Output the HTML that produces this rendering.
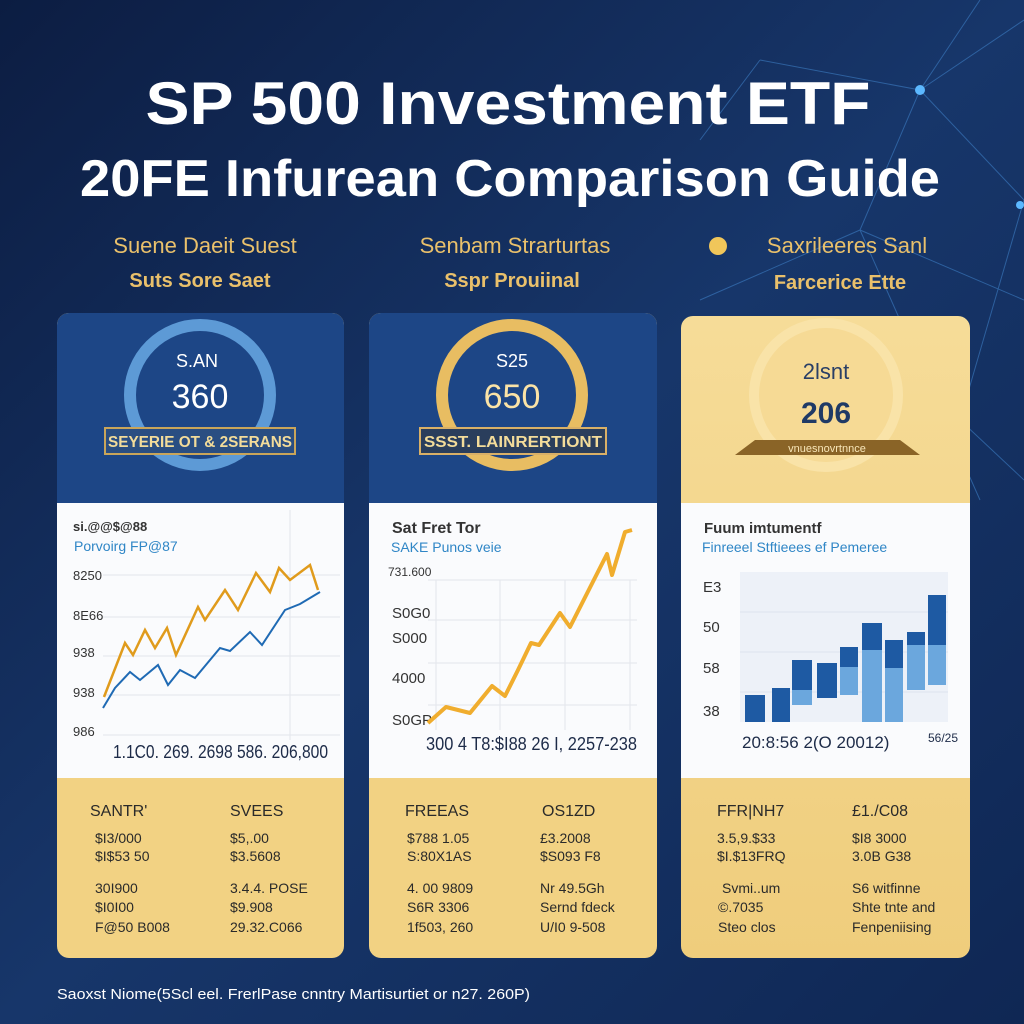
<!DOCTYPE html>
<html><head><meta charset="utf-8"><style>
html,body{margin:0;padding:0;background:#0f2450;}
svg{display:block;font-family:"Liberation Sans",sans-serif;}
</style></head><body>
<svg width="1024" height="1024" viewBox="0 0 1024 1024" xmlns="http://www.w3.org/2000/svg">
<defs>
<linearGradient id="bg" x1="0" y1="0" x2="1" y2="1">
<stop offset="0" stop-color="#0c1d42"/><stop offset="0.5" stop-color="#17366a"/><stop offset="1" stop-color="#0f2754"/>
</linearGradient>
<linearGradient id="gold" x1="0" y1="0" x2="0" y2="1"><stop offset="0" stop-color="#f6dc98"/><stop offset="1" stop-color="#efcd7c"/></linearGradient>
</defs>
<rect width="1024" height="1024" fill="url(#bg)"/>
<g stroke="#3d7fc4" stroke-width="1" opacity="0.6" fill="none">
<path d="M920 90 L1024 20 M920 90 L760 60 M920 90 L1024 200 M920 90 L860 230 M860 230 L1024 300 M860 230 L700 300 M1024 200 L960 420 M960 420 L1024 480 M760 60 L700 140 M920 90 L980 0 M860 230 L980 500"/>
</g>
<circle cx="920" cy="90" r="5" fill="#5cb8ff"/>
<circle cx="1020" cy="205" r="4" fill="#5cb8ff"/>
<text x="508" y="124" text-anchor="middle" fill="#fff" font-size="60" font-weight="bold" textLength="725" lengthAdjust="spacingAndGlyphs">SP 500 Investment ETF</text>
<text x="510" y="196" text-anchor="middle" fill="#fff" font-size="52" font-weight="bold" textLength="860" lengthAdjust="spacingAndGlyphs">20FE Infurean Comparison Guide</text>
<g fill="#e9c06b" text-anchor="middle">
<text x="205" y="253" font-size="22">Suene Daeit Suest</text>
<text x="200" y="287" font-size="20" font-weight="bold">Suts Sore Saet</text>
<text x="515" y="253" font-size="22">Senbam Strarturtas</text>
<text x="512" y="287" font-size="20" font-weight="bold">Sspr Prouiinal</text>
<text x="847" y="253" font-size="22">Saxrileeres Sanl</text>
<text x="840" y="289" font-size="20" font-weight="bold">Farcerice Ette</text>
</g>
<circle cx="718" cy="246" r="9" fill="#f0c65a"/>
<!-- card1 -->
<rect x="57" y="313" width="287" height="645" rx="12" fill="#f2d283"/>
<path d="M69 313 H332 A12 12 0 0 1 344 325 V503 H57 V325 A12 12 0 0 1 69 313Z" fill="#1d4686"/>
<rect x="57" y="503" width="287" height="275" fill="#fafbfd"/>
<circle cx="200" cy="395" r="70" fill="none" stroke="#5d9ad6" stroke-width="12"/>
<text x="197" y="367" fill="#fff" font-size="18" text-anchor="middle">S.AN</text>
<text x="200" y="408" fill="#fff" font-size="34" text-anchor="middle">360</text>
<rect x="105" y="428" width="190" height="26" fill="#2a4e82" stroke="#c9a55a" stroke-width="2"/>
<text x="200" y="447" fill="#f3dc9a" font-size="16" font-weight="bold" text-anchor="middle" textLength="184" lengthAdjust="spacingAndGlyphs">SEYERIE OT &amp; 2SERANS</text>
<!-- card2 -->
<rect x="369" y="313" width="288" height="645" rx="12" fill="#f2d283"/>
<path d="M381 313 H645 A12 12 0 0 1 657 325 V503 H369 V325 A12 12 0 0 1 381 313Z" fill="#1d4686"/>
<rect x="369" y="503" width="288" height="275" fill="#fafbfd"/>
<circle cx="512" cy="395" r="70" fill="none" stroke="#e8bd62" stroke-width="12"/>
<text x="512" y="367" fill="#fff" font-size="18" text-anchor="middle">S25</text>
<text x="512" y="408" fill="#fbe3a6" font-size="34" text-anchor="middle">650</text>
<rect x="420" y="428" width="186" height="26" fill="#2a3e5c" stroke="#d9b067" stroke-width="2"/>
<text x="513" y="447" fill="#f3dc9a" font-size="16" font-weight="bold" text-anchor="middle" textLength="178" lengthAdjust="spacingAndGlyphs">SSST. LAINRERTIONT</text>
<!-- card3 -->
<rect x="681" y="316" width="289" height="642" rx="12" fill="url(#gold)"/>
<rect x="681" y="503" width="289" height="275" fill="#fafbfd"/>
<circle cx="826" cy="395" r="72" fill="#f6da95" stroke="#f9e3a8" stroke-width="10"/>
<text x="826" y="379" fill="#2a3f66" font-size="22" text-anchor="middle">2lsnt</text>
<text x="826" y="423" fill="#1f3a66" font-size="30" font-weight="bold" text-anchor="middle">206</text>
<path d="M735 455 L755 440 H900 L920 455 Z" fill="#8a6427"/>
<text x="827" y="452" fill="#f8e6b8" font-size="11" text-anchor="middle">vnuesnovrtnnce</text>
<!-- chart1 -->
<g font-size="13" fill="#333">
<text x="73" y="531" font-weight="bold">si.@@$@88</text>
<text x="74" y="551" fill="#2f86c6" font-size="14">Porvoirg FP@87</text>
<text x="73" y="580">8250</text><text x="73" y="620">8E66</text><text x="73" y="657">938</text><text x="73" y="697">938</text><text x="73" y="736">986</text>
</g>
<g stroke="#e3e6ec" stroke-width="1">
<line x1="103" y1="575" x2="340" y2="575"/><line x1="103" y1="617" x2="340" y2="617"/><line x1="103" y1="656" x2="340" y2="656"/><line x1="103" y1="695" x2="340" y2="695"/><line x1="103" y1="735" x2="340" y2="735"/>
<line x1="290" y1="510" x2="290" y2="740"/>
</g>
<polyline fill="none" stroke="#e09b1c" stroke-width="2.5" points="104,697 125,643 133,655 145,630 155,648 167,628 176,655 198,607 205,620 225,590 238,610 256,573 270,592 279,568 290,580 310,565 318,590"/>
<polyline fill="none" stroke="#1f6ab4" stroke-width="2" points="103,708 115,688 130,672 140,680 158,665 168,685 180,670 195,678 220,648 230,651 250,632 262,645 285,610 300,604 320,592"/>
<text x="113" y="758" font-size="18" fill="#1d2b48" textLength="215" lengthAdjust="spacingAndGlyphs">1.1C0. 269. 2698  586. 206,800</text>
<!-- chart2 -->
<g font-size="15" fill="#333">
<text x="392" y="533" font-weight="bold" font-size="16">Sat Fret Tor</text>
<text x="391" y="552" fill="#2f86c6" font-size="14">SAKE Punos veie</text>
<text x="388" y="576" font-size="12">731.600</text><text x="392" y="618">S0G0</text><text x="392" y="643">S000</text><text x="392" y="683">4000</text><text x="392" y="725">S0GP</text>
</g>
<g stroke="#e3e6ec" stroke-width="1">
<line x1="428" y1="580" x2="637" y2="580"/><line x1="428" y1="620" x2="637" y2="620"/><line x1="428" y1="663" x2="637" y2="663"/><line x1="428" y1="705" x2="637" y2="705"/>
<line x1="436" y1="580" x2="436" y2="730"/><line x1="500" y1="580" x2="500" y2="730"/><line x1="565" y1="580" x2="565" y2="730"/><line x1="630" y1="580" x2="630" y2="730"/>
</g>
<polyline fill="none" stroke="#f0ad2e" stroke-width="4" stroke-linejoin="round" points="428,723 446,707 470,713 492,686 505,696 518,670 531,643 539,645 560,613 570,627 607,554 612,575 625,532 632,530"/>
<text x="426" y="750" font-size="18" fill="#1d2b48" textLength="211" lengthAdjust="spacingAndGlyphs">300  4 T8:$I88  26 I,  2257-238</text>
<!-- chart3 -->
<g font-size="15" fill="#333">
<text x="704" y="533" font-weight="bold">Fuum imtumentf</text>
<text x="702" y="552" fill="#2f86c6" font-size="14">Finreeel Stftieees ef Pemeree</text>
<text x="703" y="592">E3</text><text x="703" y="632">50</text><text x="703" y="673">58</text><text x="703" y="716">38</text>
</g>
<rect x="740" y="572" width="208" height="150" fill="#edf1f8"/>
<g stroke="#dde3ee"><line x1="740" y1="612" x2="948" y2="612"/><line x1="740" y1="652" x2="948" y2="652"/><line x1="740" y1="692" x2="948" y2="692"/></g>
<g fill="#1e5aa3">
<rect x="745" y="695" width="20" height="27"/><rect x="772" y="688" width="18" height="34"/><rect x="792" y="660" width="20" height="30"/><rect x="817" y="663" width="20" height="35"/><rect x="840" y="647" width="18" height="20"/><rect x="862" y="623" width="20" height="27"/><rect x="885" y="640" width="18" height="28"/><rect x="907" y="632" width="18" height="13"/><rect x="928" y="595" width="18" height="50"/>
</g>
<g fill="#6ba7dd">
<rect x="792" y="690" width="20" height="15"/><rect x="840" y="667" width="18" height="28"/><rect x="862" y="650" width="20" height="72"/><rect x="885" y="668" width="18" height="54"/><rect x="907" y="645" width="18" height="45"/><rect x="928" y="645" width="18" height="40"/>
</g>
<text x="742" y="748" font-size="17" fill="#1d2b48">20:8:56   2(O 20012)</text>
<text x="928" y="742" font-size="12" fill="#1d2b48">56/25</text>
<!-- bottom text -->
<g font-size="14" fill="#2a2a2a">
<text x="90" y="816" font-size="16">SANTR'</text><text x="230" y="816" font-size="16">SVEES</text>
<text x="95" y="843">$I3/000</text><text x="230" y="843">$5,.00</text>
<text x="95" y="861">$I$53 50</text><text x="230" y="861">$3.5608</text>
<text x="95" y="893">30I900</text><text x="230" y="893">3.4.4. POSE</text>
<text x="95" y="912">$I0I00</text><text x="230" y="912">$9.908</text>
<text x="95" y="932">F@50 B008</text><text x="230" y="932">29.32.C066</text>
<text x="405" y="816" font-size="16">FREEAS</text><text x="542" y="816" font-size="16">OS1ZD</text>
<text x="407" y="843">$788 1.05</text><text x="540" y="843">£3.2008</text>
<text x="407" y="861">S:80X1AS</text><text x="540" y="861">$S093 F8</text>
<text x="407" y="893">4. 00 9809</text><text x="540" y="893">Nr 49.5Gh</text>
<text x="407" y="912">S6R 3306</text><text x="540" y="912">Sernd fdeck</text>
<text x="407" y="932">1f503, 260</text><text x="540" y="932">U/I0 9-508</text>
<text x="717" y="816" font-size="16">FFR|NH7</text><text x="852" y="816" font-size="16">£1./C08</text>
<text x="717" y="843">3.5,9.$33</text><text x="852" y="843">$I8 3000</text>
<text x="717" y="861">$I.$13FRQ</text><text x="852" y="861">3.0B G38</text>
<text x="722" y="893">Svmi..um</text><text x="852" y="893">S6 witfinne</text>
<text x="718" y="912">©.7035</text><text x="852" y="912">Shte tnte and</text>
<text x="718" y="932">Steo clos</text><text x="852" y="932">Fenpeniising</text>
</g>
<text x="57" y="999" font-size="15" fill="#fff" textLength="473" lengthAdjust="spacingAndGlyphs">Saoxst Niome(5Scl eel. FrerlPase cnntry Martisurtiet or n27. 260P)</text>
</svg>
</body></html>
